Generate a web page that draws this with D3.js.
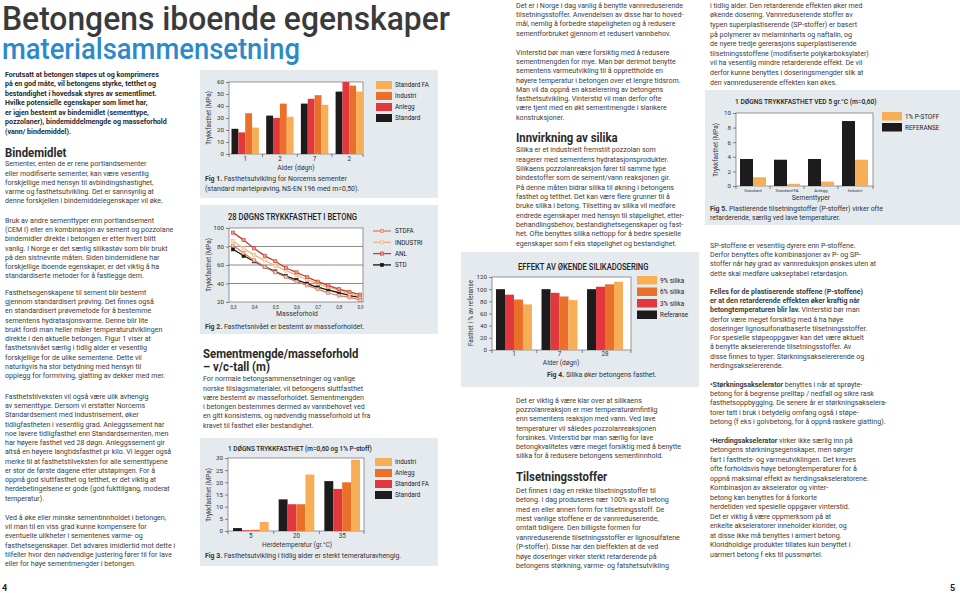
<!DOCTYPE html>
<html><head><meta charset="utf-8">
<script src="https://cdn.jsdelivr.net/npm/d3@7"></script>
<style>
html,body{margin:0;padding:0;background:#fff;}
svg{display:block;}
text{font-family:Roboto,"Noto Sans",sans-serif;}
</style></head><body>
<svg id="c" width="960" height="593"></svg>
<script>
// ===== DATA =====
// Fig 1
const fig1Categories = ["1", "2", "7", "2"];
const fig1Series = ["Standard", "Anlegg", "Industri", "Standard FA"];
const fig1Standard = [21, 32, 42, 52];
const fig1Anlegg = [18, 30, 46, 60];
const fig1Industri = [34, 42, 49, 57];
const fig1StandardFA = [22, 31, 41, 52];
const fig1YTicks = [0, 10, 20, 30, 40, 50, 60];
// Fig 2
const fig2Masseforhold = [0.3, 0.35, 0.4, 0.45, 0.5, 0.55, 0.6, 0.65, 0.7, 0.75, 0.8, 0.85, 0.9];
const fig2STDFA = [81, 73, 65, 58, 52, 47, 42, 38, 34, 30, 27, 25, 22];
const fig2INDUSTRI = [86, 78, 71, 65, 59, 54, 49, 44, 40, 36, 33, 29, 26];
const fig2ANL = [95, 87, 78, 70, 64, 57, 52, 47, 42, 38, 34, 31, 28];
const fig2STD = [77, 70, 64, 58, 53, 48, 44, 40, 36, 33, 30, 27, 25];
const fig2XTicks = [0.3, 0.4, 0.5, 0.6, 0.7, 0.8, 0.9];
const fig2YTicks = [20, 40, 60, 80, 100];
// Fig 3
const fig3Categories = ["5", "20", "35"];
const fig3Standard = [1.2, 13, 20.5];
const fig3StandardFA = [0.3, 11, 17.3];
const fig3Anlegg = [0.5, 11, 20];
const fig3Industri = [3.7, 23.2, 29.3];
const fig3YTicks = [0, 5, 10, 15, 20, 25, 30];
// Fig 4
const fig4Categories = ["1", "7", "28"];
const fig4Referanse = [100, 100, 100];
const fig4Silika3 = [91, 94, 104];
const fig4Silika6 = [83, 88, 108];
const fig4Silika9 = [75, 82, 112];
const fig4YTicks = [0, 20, 40, 60, 80, 100, 120];
// Fig 5
const fig5Categories = ["Standard", "Standard FA", "Anlegg", "Industri"];
const fig5Referanse = [3.7, 3.6, 3.7, 8.9];
const fig5PStoff = [1.2, 0.3, 0.6, 3.6];
const fig5YTicks = [0, 2, 4, 6, 8, 10];

// ===== TEXT =====
const introLines = [
"Forutsatt at betongen støpes ut og komprimeres",
"på en god måte, vil betongens styrke, tetthet og",
"bestandighet i hovedsak styres av sementlimet.",
"Hvilke potensielle egenskaper som limet har,",
"er igjen bestemt av bindemidlet (sementtype,",
"pozzolaner), bindemiddelmengde og masseforhold",
"(vann/ bindemiddel)."];
const bind1 = [
"Sementer, enten de er rene portlandsementer",
"eller modifiserte sementer, kan være vesentlig",
"forskjellige med hensyn til avbindingshastighet,",
"varme og fasthetsutvikling. Det er sannsynlig at",
"denne forskjellen i bindemiddelegenskaper vil øke."];
const bind2 = [
"Bruk av andre sementtyper enn portlandsement",
"(CEM I) eller en kombinasjon av sement og pozzolane",
"bindemidler direkte i betongen er etter hvert blitt",
"vanlig. I Norge er det særlig silikastøv som blir brukt",
"på den sistnevnte måten. Siden bindemidlene har",
"forskjellige iboende egenskaper, er det viktig å ha",
"standardiserte metoder for å fastlegge dem."];
const bind3 = [
"Fasthetsegenskapene til sement blir bestemt",
"gjennom standardisert prøving. Det finnes også",
"en standardisert prøvemetode for å bestemme",
"sementens hydratasjonsvarme. Denne blir lite",
"brukt fordi man heller måler temperaturutviklingen",
"direkte i den aktuelle betongen. Figur 1 viser at",
"fasthetsnivået særlig i tidlig alder er vesentlig",
"forskjellige for de ulike sementene. Dette vil",
"naturligvis ha stor betydning med hensyn til",
"opplegg for formriving, glatting av dekker med mer."];
const bind4 = [
"Fasthetstilveksten vil også være ulik avhengig",
"av sementtype. Dersom vi erstatter Norcems",
"Standardsement med Industrisement, øker",
"tidligfastheten i vesentlig grad. Anleggssement har",
"noe lavere tidligfasthet enn Standardsementen, men",
"har høyere fasthet ved 28 døgn. Anleggssement gir",
"altså en høyere langtidsfasthet pr kilo. Vi legger også",
"merke til at fasthetstilveksten for alle sementtypene",
"er stor de første dagene etter utstøpingen. For å",
"oppnå god sluttfasthet og tetthet, er det viktig at",
"herdebetingelsene er gode (god fukttilgang, moderat",
"temperatur)."];
const bind5 = [
"Ved  å øke eller minske sementinnholdet i betongen,",
"vil man til en viss grad kunne kompensere for",
"eventuelle ulikheter i sementenes varme- og",
"fasthetsegenskaper. Det advares imidlertid mot dette i",
"tilfeller hvor den nødvendige justering fører til for lave",
"eller for høye sementmengder i betongen."];
const semLines = [
"For normale betongsammensetninger og vanlige",
"norske tilslagsmaterialer, vil betongens sluttfasthet",
"være bestemt av masseforholdet. Sementmengden",
"i betongen bestemmes dermed av vannbehovet ved",
"en gitt konsistems, og nødvendig masseforhold ut fra",
"kravet til fasthet eller bestandighet."];
const col3a = [
"Det er i Norge i dag vanlig å benytte vannreduserende",
"tilsetningsstoffer. Anvendelsen av disse har to hoved-",
"mål, nemlig å forbedre støpeligheten og å redusere",
"sementforbruket gjennom et redusert vannbehov."];
const col3b = [
"Vinterstid bør man være forsiktig med å redusere",
"sementmengden for mye. Man bør derimot benytte",
"sementens varmeutvikling til å opprettholde en",
"høyere temperatur i betongen over et lengre tidsrom.",
"Man vil da oppnå en akselerering av betongens",
"fasthetsutvikling. Vinterstid vil man derfor ofte",
"være tjent med en økt sementmengde i slankere",
"konstruksjoner."];
const col3c = [
"Silika er et industrielt fremstilt pozzolan som",
"reagerer med sementens hydratasjonsprodukter.",
"Silikaens pozzolanreaksjon fører til samme type",
"bindestoffer som de sement/vann reaksjonen gir.",
"På denne måten bidrar silika til økning i betongens",
"fasthet og tetthet. Det kan være flere grunner til å",
"bruke silika i betong. Tilsetting av silika vil medføre",
"endrede egenskaper med hensyn til støpelighet, etter-",
"behandlingsbehov, bestandighetsegenskaper og fast-",
"het. Ofte benyttes silika nettopp for å bedre spesielle",
"egenskaper som f eks støpelighet og bestandighet."];
const col3d = [
"Det er viktig å være klar over at silikaens",
"pozzolanreaksjon er mer temperaturømfintlig",
"enn sementens reaksjon med vann. Ved lave",
"temperaturer vil således pozzolanreaksjonen",
"forsinkes. Vinterstid bør man  særlig for lave",
"betongkvalitetes være meget forsiktig med å benytte",
"silika for å redusere betongens sementinnhold."];
const col3e = [
"Det finnes i dag en rekke tilsetningsstoffer til",
"betong. I dag produseres nær 100% av all betong",
"med en eller annen form for tilsetningsstoff. De",
"mest vanlige stoffene er de vannreduserende,",
"omtalt tidligere. Den billigste formen for",
"vannreduserende tilsetningsstoffer er lignosulfatene",
"(P-stoffer). Disse har den bieffekten at de ved",
"høye doseringer virker sterkt retarderende på",
"betongens størkning, varme- og fatshetsutvikling"];
const col4a = [
"i tidlig alder. Den retarderende effekten øker med",
"økende dosering. Vannreduserende stoffer av",
"typen superplastiserende (SP-stoffer) er basert",
"på polymerer av melaminharts og naftalin, og",
"de nyere tredje gererasjons superplastiserende",
"tilsetningsstoffene (modifiserte polykarboksylater)",
"vil ha vesentlig mindre retarderende effekt. De vil",
"derfor kunne benyttes i doseringsmengder slik at",
"den vannreduserende effekten kan økes."];
const col4b = [
"SP-stoffene er vesentlig dyrere enn P-stoffene.",
"Derfor benyttes ofte kombinasjoner av P- og SP-",
"stoffer når høy grad av vannreduksjon ønskes uten at",
"dette skal medføre uakseptabel retardasjon."];
const col4c = [
"**Felles for de plastiserende stoffene (P-stoffene)**",
"**er at den retarderende effekten øker kraftig når**",
"**betongtemperaturen blir lav.** Vinterstid bør man",
"derfor være meget forsiktig med å ha høye",
"doseringer lignosulfonatbaserte tilsetningsstoffer.",
"For spesielle støpeoppgaver kan det være aktuelt",
"å benytte akselererende tilsetningsstoffer. Av",
"disse finnes to typer: Størkningsakselererende og",
"herdingsakselererende."];
const col4d = [
"**•Størkningsakselerator** benyttes i når at sprøyte-",
"betong for å begrense prelltap / nedfall og sikre rask",
"fasthetsoppbygging. De senere år er størkningsakselera-",
"torer tatt i bruk i betydelig omfang også i støpe-",
"betong (f eks i golvbetong, for å oppnå raskere glatting)."];
const col4e = [
"**•Herdingsakselerator** virker ikke særlig inn på",
"betongens størkningsegenskaper, men sørger",
"fart i fasthets- og varmeutviklingen. Det kreves",
"ofte forholdsvis høye betongtemperaturer for å",
"oppnå maksimal effekt av herdingsakseleratorene.",
"Kombinasjon av akselerator og vinter-",
"betong kan benyttes for å forkorte",
"herdetiden ved spesielle oppgaver vinterstid.",
"Det er viktig å være oppmerksom på at",
"enkelte akseleratorer inneholder klorider, og",
"at disse ikke må benyttes i armert betong.",
"Kloridholdige produkter tillates kun benyttet i",
"uarmert betong f eks til pussmørtel."];

// ===== DRAW =====
const svg = d3.select("#c");
const SX = 0.91;
const C_BLACK = "#1d1b1c", C_RED = "#e2373d", C_ORANGE = "#ea7029", C_LIGHT = "#f8ad57";
const PANEL = "#e5eaef";
const TXT = "#3b3b3b";

function rich(t, str) {
  str.split(/(\*\*[^*]+\*\*)/).filter(s => s.length).forEach(p => {
    if (p.startsWith("**")) t.append("tspan").attr("font-weight", 700).text(p.slice(2, -2));
    else t.append("tspan").text(p);
  });
}
function block(x, y, lines, o = {}) {
  const size = o.size || 7.8, lh = o.lh || 9.25, sx = o.sx || SX;
  lines.forEach((ln, i) => {
    const t = svg.append("text")
      .attr("transform", `translate(${x},${y + i * lh + size * 0.36}) scale(${sx},1)`)
      .attr("font-size", size).attr("font-weight", o.weight || 400)
      .attr("fill", o.fill || TXT);
    rich(t, ln);
  });
}
function stext(x, y, str, o = {}) {
  const t = svg.append("text")
    .attr("transform", `translate(${x},${y}) scale(${o.sx || 1},1)` + (o.rotate ? ` rotate(${o.rotate})` : ""))
    .attr("font-size", o.size || 6.5).attr("font-weight", o.weight || 400)
    .attr("fill", o.fill || "#333").attr("text-anchor", o.anchor || "start");
  rich(t, str);
  return t;
}

// Title
svg.append("text").attr("x", 2).attr("y", 30).attr("font-size", 33).attr("font-weight", 500)
  .attr("fill", "#3a3a3a").attr("textLength", 448).attr("lengthAdjust", "spacingAndGlyphs")
  .text("Betongens iboende egenskaper");
svg.append("text").attr("x", 2).attr("y", 59).attr("font-size", 30).attr("font-weight", 500)
  .attr("fill", "#2c8acb").attr("textLength", 298).attr("lengthAdjust", "spacingAndGlyphs")
  .text("materialsammensetning");

// Left column
block(5, 74, introLines, { weight: 700, lh: 9.5, fill: "#2a2a2a" });
block(5, 152, ["Bindemidlet"], { size: 12.5, weight: 700, fill: "#2a2a2a" });
block(5, 163.5, bind1);
block(5, 220, bind2);
block(5, 292, bind3);
block(5, 396, bind4);
block(5, 517, bind5);
stext(2, 591, "4", { size: 9, weight: 700, fill: "#222" });
stext(950, 591, "5", { size: 9, weight: 700, fill: "#222" });

// Middle column text
block(203, 353.5, ["Sementmengde/masseforhold", "– v/c-tall (m)"], { size: 12.5, weight: 700, lh: 12.5, fill: "#2a2a2a" });
block(203, 378.5, semLines);

// Column 3 text
block(516, 5, col3a);
block(516, 52, col3b);
block(516, 137.5, ["Innvirkning av silika"], { size: 12.5, weight: 700, fill: "#2a2a2a" });
block(516, 149.5, col3c, { lh: 9.35 });
block(516, 400, col3d);
block(516, 476.5, ["Tilsetningsstoffer"], { size: 12.5, weight: 700, fill: "#2a2a2a" });
block(516, 490, col3e, { lh: 9.4 });

// Column 4 text
block(710, 5, col4a, { lh: 9.6 });
block(710, 245, col4b);
block(710, 291, col4c);
block(710, 384, col4d);
block(710, 440, col4e, { lh: 9.5 });

// ===== CHART HELPERS =====
function panel(x, y, w, h) {
  svg.append("rect").attr("x", x).attr("y", y).attr("width", w).attr("height", h).attr("fill", PANEL);
}
function frame(l, t, r, b) {
  svg.append("rect").attr("x", l).attr("y", t).attr("width", r - l).attr("height", b - t)
    .attr("fill", "#fff").attr("stroke", "#6d6d6d").attr("stroke-width", 0.7);
}
function yAxis(y, left, ticks, fmt) {
  const g = svg.append("g").attr("transform", `translate(${left},0)`)
    .call(d3.axisLeft(y).tickValues(ticks).tickSize(3).tickPadding(2).tickFormat(fmt || (d => d)));
  g.select(".domain").remove();
  g.selectAll("line").attr("stroke", "#555").attr("stroke-width", 0.7);
  g.selectAll("text").attr("font-size", 6.2).attr("fill", "#333").attr("font-family", "Roboto,sans-serif");
}
function barChart(c) {
  const y = d3.scaleLinear().domain([0, c.yMax]).range([c.bottom, c.top]);
  const x0 = d3.scaleBand().domain(d3.range(c.cats.length)).range([c.bandL, c.bandR])
    .paddingInner(c.padInner).paddingOuter(0);
  const x1 = d3.scaleBand().domain(c.series.map(s => s.name)).range([0, x0.bandwidth()]);
  frame(c.left, c.top, c.right, c.bottom);
  yAxis(y, c.left, c.yTicks);
  const bounds = [c.left].concat(d3.range(1, c.cats.length).map(i => (x0(i - 1) + x0.bandwidth() + x0(i)) / 2)).concat([c.right]);
  svg.append("g").selectAll("line").data(bounds).join("line")
    .attr("x1", d => d).attr("x2", d => d).attr("y1", c.bottom).attr("y2", c.bottom + 3)
    .attr("stroke", "#555").attr("stroke-width", 0.7);
  c.series.forEach(s => {
    svg.append("g").selectAll("rect").data(s.values).join("rect")
      .attr("x", (d, i) => x0(i) + x1(s.name))
      .attr("width", x1.bandwidth())
      .attr("y", d => y(d)).attr("height", d => c.bottom - y(d))
      .attr("fill", s.color);
  });
  c.cats.forEach((cat, i) => {
    stext(x0(i) + x0.bandwidth() / 2, c.bottom + (c.catDy || 7), cat, { anchor: "middle", size: c.catSize || 6.3 });
  });
  const L = c.legend;
  L.items.forEach((it, i) => {
    svg.append("rect").attr("x", L.x).attr("y", L.y + i * L.dy).attr("width", L.w).attr("height", L.h).attr("fill", it.color);
    stext(L.x + L.w + 3, L.y + i * L.dy + L.h / 2 + 2.3, it.name, { size: 6.3, fill: "#222" });
  });
}

// ===== FIG 1 =====
panel(200, 70, 238, 128);
barChart({
  left: 229, right: 363, top: 82, bottom: 154, bandL: 231.5, bandR: 363, padInner: 0.21,
  cats: fig1Categories, yMax: 60, yTicks: fig1YTicks,
  series: [
    { name: fig1Series[0], values: fig1Standard, color: C_BLACK },
    { name: fig1Series[1], values: fig1Anlegg, color: C_RED },
    { name: fig1Series[2], values: fig1Industri, color: C_ORANGE },
    { name: fig1Series[3], values: fig1StandardFA, color: C_LIGHT }],
  legend: { x: 376, y: 81, dy: 11, w: 16, h: 8, items: [
    { name: "Standard FA", color: C_LIGHT }, { name: "Industri", color: C_ORANGE },
    { name: "Anlegg", color: C_RED }, { name: "Standard", color: C_BLACK }] }
});
stext(211, 118, "Trykkfasthet  (MPa)", { rotate: -90, anchor: "middle", size: 6.3 });
stext(296, 169.5, "Alder  (døgn)", { anchor: "middle", size: 6.8 });
stext(205, 180.5, "**Fig 1.** Fasthetsutvikling for Norcems sementer", { size: 6.9, fill: "#333" });
stext(205, 190.5, "(standard mørtelprøving, NS-EN 196 med m=0,50).", { size: 6.9, fill: "#333" });

// ===== FIG 2 =====
panel(200, 205, 238, 129);
stext(228, 220, "28 DØGNS TRYKKFASTHET I BETONG", { size: 8.3, weight: 500, fill: "#222", sx: 0.92 });
(function () {
  const l = 229, r = 363, t = 228, b = 302;
  const x = d3.scaleLinear().domain([0.3, 0.9]).range([233, 360]);
  const y = d3.scaleLinear().domain([20, 100]).range([b, t]);
  frame(l, t, r, b);
  svg.append("g").selectAll("line").data([40, 60, 80]).join("line")
    .attr("x1", l).attr("x2", r).attr("y1", d => y(d)).attr("y2", d => y(d))
    .attr("stroke", "#5a5a5a").attr("stroke-width", 0.7);
  yAxis(y, l, fig2YTicks);
  const xa = svg.append("g").attr("transform", `translate(0,${b})`)
    .call(d3.axisBottom(x).tickValues(fig2XTicks).tickSize(0).tickPadding(4).tickFormat(d => d3.format(".1f")(d).replace(".", ",")));
  xa.select(".domain").remove();
  xa.selectAll("text").attr("font-size", 4.5).attr("fill", "#333");
  const series = [
    { name: "STD", values: fig2STD, line: "#161616", fill: "#161616" },
    { name: "STDFA", values: fig2STDFA, line: "#d77c68", fill: "#f0c0b0" },
    { name: "INDUSTRI", values: fig2INDUSTRI, line: "#f2b477", fill: "#fde3c6" },
    { name: "ANL", values: fig2ANL, line: "#c43f36", fill: "#e99a88" }];
  const line = d3.line().x((d, i) => x(fig2Masseforhold[i])).y(d => y(d)).curve(d3.curveMonotoneX);
  series.forEach(s => {
    svg.append("path").attr("d", line(s.values)).attr("fill", "none").attr("stroke", s.line).attr("stroke-width", 1.3);
    svg.append("g").selectAll("rect").data(s.values).join("rect")
      .attr("x", (d, i) => x(fig2Masseforhold[i]) - 1.6).attr("y", d => y(d) - 1.6)
      .attr("width", 3.2).attr("height", 3.2).attr("fill", s.fill).attr("stroke", s.line).attr("stroke-width", 0.6);
  });
  const leg = [series[1], series[2], series[3], series[0]];
  leg.forEach((s, i) => {
    const yy = 231 + i * 11.3;
    svg.append("line").attr("x1", 373).attr("x2", 391).attr("y1", yy).attr("y2", yy).attr("stroke", s.line).attr("stroke-width", 1.3);
    svg.append("rect").attr("x", 380.4).attr("y", yy - 1.6).attr("width", 3.2).attr("height", 3.2)
      .attr("fill", s.fill).attr("stroke", s.line).attr("stroke-width", 0.6);
    stext(395, yy + 2.3, s.name, { size: 6.3, fill: "#222" });
  });
})();
stext(211, 265, "Trykkfasthet  (MPa)", { rotate: -90, anchor: "middle", size: 6.3 });
stext(297, 316, "Masseforhold", { anchor: "middle", size: 6.8 });
stext(205, 329, "**Fig 2.** Fasthetsnivået er bestemt av masseforholdet.", { size: 6.9, fill: "#333" });

// ===== FIG 3 =====
panel(200, 438, 238, 128);
stext(228, 451, "1 DØGNS TRYKKFASTHET (m=0,60 og 1% P-stoff)", { size: 7.2, weight: 500, fill: "#222", sx: 0.9 });
barChart({
  left: 228, right: 364, top: 458, bottom: 531, bandL: 233, bandR: 360, padInner: 0.22,
  cats: fig3Categories, yMax: 30, yTicks: fig3YTicks, catDy: 7,
  series: [
    { name: "Standard", values: fig3Standard, color: C_BLACK },
    { name: "Standard FA", values: fig3StandardFA, color: C_RED },
    { name: "Anlegg", values: fig3Anlegg, color: C_ORANGE },
    { name: "Industri", values: fig3Industri, color: C_LIGHT }],
  legend: { x: 375, y: 458, dy: 11, w: 17, h: 8, items: [
    { name: "Industri", color: C_LIGHT }, { name: "Anlegg", color: C_ORANGE },
    { name: "Standard FA", color: C_RED }, { name: "Standard", color: C_BLACK }] }
});
stext(211, 495, "Trykkfasthet  (MPa)", { rotate: -90, anchor: "middle", size: 6.3 });
stext(297, 546.5, "Herdetemperatur  (gr.°C)", { anchor: "middle", size: 6.6 });
stext(205, 558, "**Fig 3.** Fasthetsutvikling i tidlig alder er sterkt temeraturavhengig.", { size: 6.9, fill: "#333" });

// ===== FIG 4 =====
panel(461, 252, 238, 135);
stext(518, 270, "EFFEKT AV ØKENDE SILIKADOSERING", { size: 8.3, weight: 500, fill: "#222", sx: 0.92 });
barChart({
  left: 492, right: 631, top: 277, bottom: 350, bandL: 496, bandR: 623, padInner: 0.21,
  cats: fig4Categories, yMax: 120, yTicks: fig4YTicks, catDy: 6.3,
  series: [
    { name: "Referanse", values: fig4Referanse, color: C_BLACK },
    { name: "3% silika", values: fig4Silika3, color: C_RED },
    { name: "6% silika", values: fig4Silika6, color: C_ORANGE },
    { name: "9% silika", values: fig4Silika9, color: C_LIGHT }],
  legend: { x: 637, y: 276, dy: 11.5, w: 20, h: 8.5, items: [
    { name: "9% silika", color: C_LIGHT }, { name: "6% silika", color: C_ORANGE },
    { name: "3% silika", color: C_RED }, { name: "Referanse", color: C_BLACK }] }
});
stext(473, 313, "Fasthet i % av referanse", { rotate: -90, anchor: "middle", size: 6.3 });
stext(561, 365, "Alder  (døgn)", { anchor: "middle", size: 6.6 });
stext(547, 377, "**Fig 4.** Silika øker betongens fasthet.", { size: 6.9, fill: "#333" });

// ===== FIG 5 =====
panel(705, 90, 255, 135);
stext(735, 104, "1 DØGNS TRYKKFASTHET VED 5 gr.°C (m=0,60)", { size: 7.4, weight: 500, fill: "#222", sx: 0.9 });
barChart({
  left: 736, right: 873, top: 113, bottom: 186, bandL: 740, bandR: 868, padInner: 0.235,
  cats: fig5Categories, yMax: 10, yTicks: fig5YTicks, catSize: 4.3, catDy: 5.5,
  series: [
    { name: "REFERANSE", values: fig5Referanse, color: C_BLACK },
    { name: "1% P-STOFF", values: fig5PStoff, color: C_LIGHT }],
  legend: { x: 882, y: 112, dy: 11, w: 20, h: 8.5, items: [
    { name: "1% P-STOFF", color: C_LIGHT }, { name: "REFERANSE", color: C_BLACK }] }
});
stext(718, 150, "Trykkfasthet  (MPa)", { rotate: -90, anchor: "middle", size: 6.3 });
stext(811, 199.5, "Sementtyper", { anchor: "middle", size: 6.8 });
stext(710, 210.5, "**Fig 5.** Plastierende tilsetningstoffer (P-stoffer) virker ofte", { size: 6.9, fill: "#333" });
stext(710, 220, "retarderende, særlig ved lave temperaturer.", { size: 6.9, fill: "#333" });
</script>
</body></html>
